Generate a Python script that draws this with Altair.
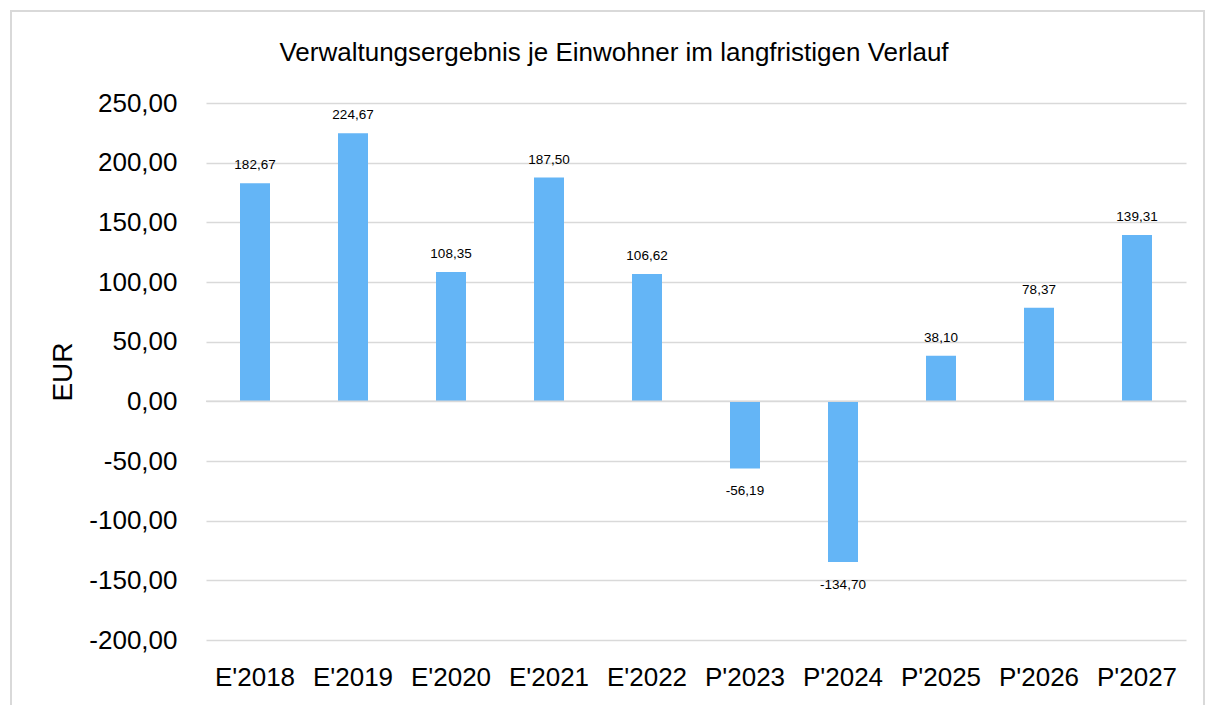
import altair as alt
import pandas as pd

categories = ["E'2018", "E'2019", "E'2020", "E'2021", "E'2022",
              "P'2023", "P'2024", "P'2025", "P'2026", "P'2027"]
values = [182.67, 224.67, 108.35, 187.50, 106.62, -56.19, -134.70, 38.10, 78.37, 139.31]
y_ticks = [-200, -150, -100, -50, 0, 50, 100, 150, 200, 250]

TITLE = "Verwaltungsergebnis je Einwohner im langfristigen Verlauf"
FONT = "Liberation Sans, Arial"
BAR = "#64B5F6"
GRID = "#D9D9D9"

df = pd.DataFrame({
    "cat": categories,
    "val": values,
    "label": [f"{v:.2f}".replace(".", ",") for v in values],
})

W, H = 980, 537

x_enc = alt.X("cat:N", sort=categories, title=None,
              scale=alt.Scale(paddingInner=0.69, paddingOuter=0.345),
              axis=alt.Axis(labelAngle=0, labelFont=FONT, labelFontSize=26,
                            labelColor="#000000", labelPadding=24, ticks=False,
                            domain=False, grid=False, labelBaseline="top"))
y_scale = alt.Scale(domain=[-200, 250], nice=False, zero=True)

base = alt.Chart(df)

bars = base.mark_bar(color=BAR, size=30).encode(
    x=x_enc,
    y=alt.Y("val:Q", scale=y_scale, title="EUR",
            axis=alt.Axis(values=y_ticks,
                          labelExpr="replace(replace(format(datum.value, '.2f'), '.', ','), '\u2212', '-')",
                          labelFont=FONT, labelFontSize=26, labelColor="#000000",
                          labelPadding=29, ticks=False, domain=False,
                          grid=True, gridColor=GRID, gridWidth=1.5,
                          titleFont=FONT, titleFontSize=28, titleFontWeight="normal",
                          titleColor="#000000", titleX=-143, titleY=H / 2,
                          titleAngle=-90, titleAlign="center", titleBaseline="middle")),
)

zero = alt.Chart(pd.DataFrame({"z": [0]})).mark_rule(color=GRID, strokeWidth=1.5).encode(
    y=alt.Y("z:Q", scale=y_scale)
)

pos_labels = base.transform_filter("datum.val >= 0").mark_text(
    font=FONT, fontSize=13.5, color="#000000", baseline="alphabetic", dy=-14
).encode(x=alt.X("cat:N", sort=categories), y=alt.Y("val:Q", scale=y_scale), text="label:N")

neg_labels = base.transform_filter("datum.val < 0").mark_text(
    font=FONT, fontSize=13.5, color="#000000", baseline="top", dy=16
).encode(x=alt.X("cat:N", sort=categories), y=alt.Y("val:Q", scale=y_scale), text="label:N")

frame = alt.Chart(pd.DataFrame({"f": [0]})).mark_rect(
    fillOpacity=0, stroke=GRID, strokeWidth=2, clip=False
).encode(x=alt.value(-195), x2=alt.value(998), y=alt.value(-92), y2=alt.value(620))

title = alt.Chart(pd.DataFrame({"t": [TITLE]})).mark_text(
    font=FONT, fontSize=26, color="#000000", align="center", baseline="alphabetic"
).encode(x=alt.value(408), y=alt.value(-42), text="t:N")

chart = alt.layer(frame, bars, zero, pos_labels, neg_labels, title).properties(
    width=W, height=H,
    autosize=alt.AutoSizeParams(type="none"),
    padding={"left": 198, "top": 95, "right": 19, "bottom": 70},
).configure(background="white").configure_view(stroke=None)

chart.save("out.html", embed_options={"renderer": "svg", "actions": False})
